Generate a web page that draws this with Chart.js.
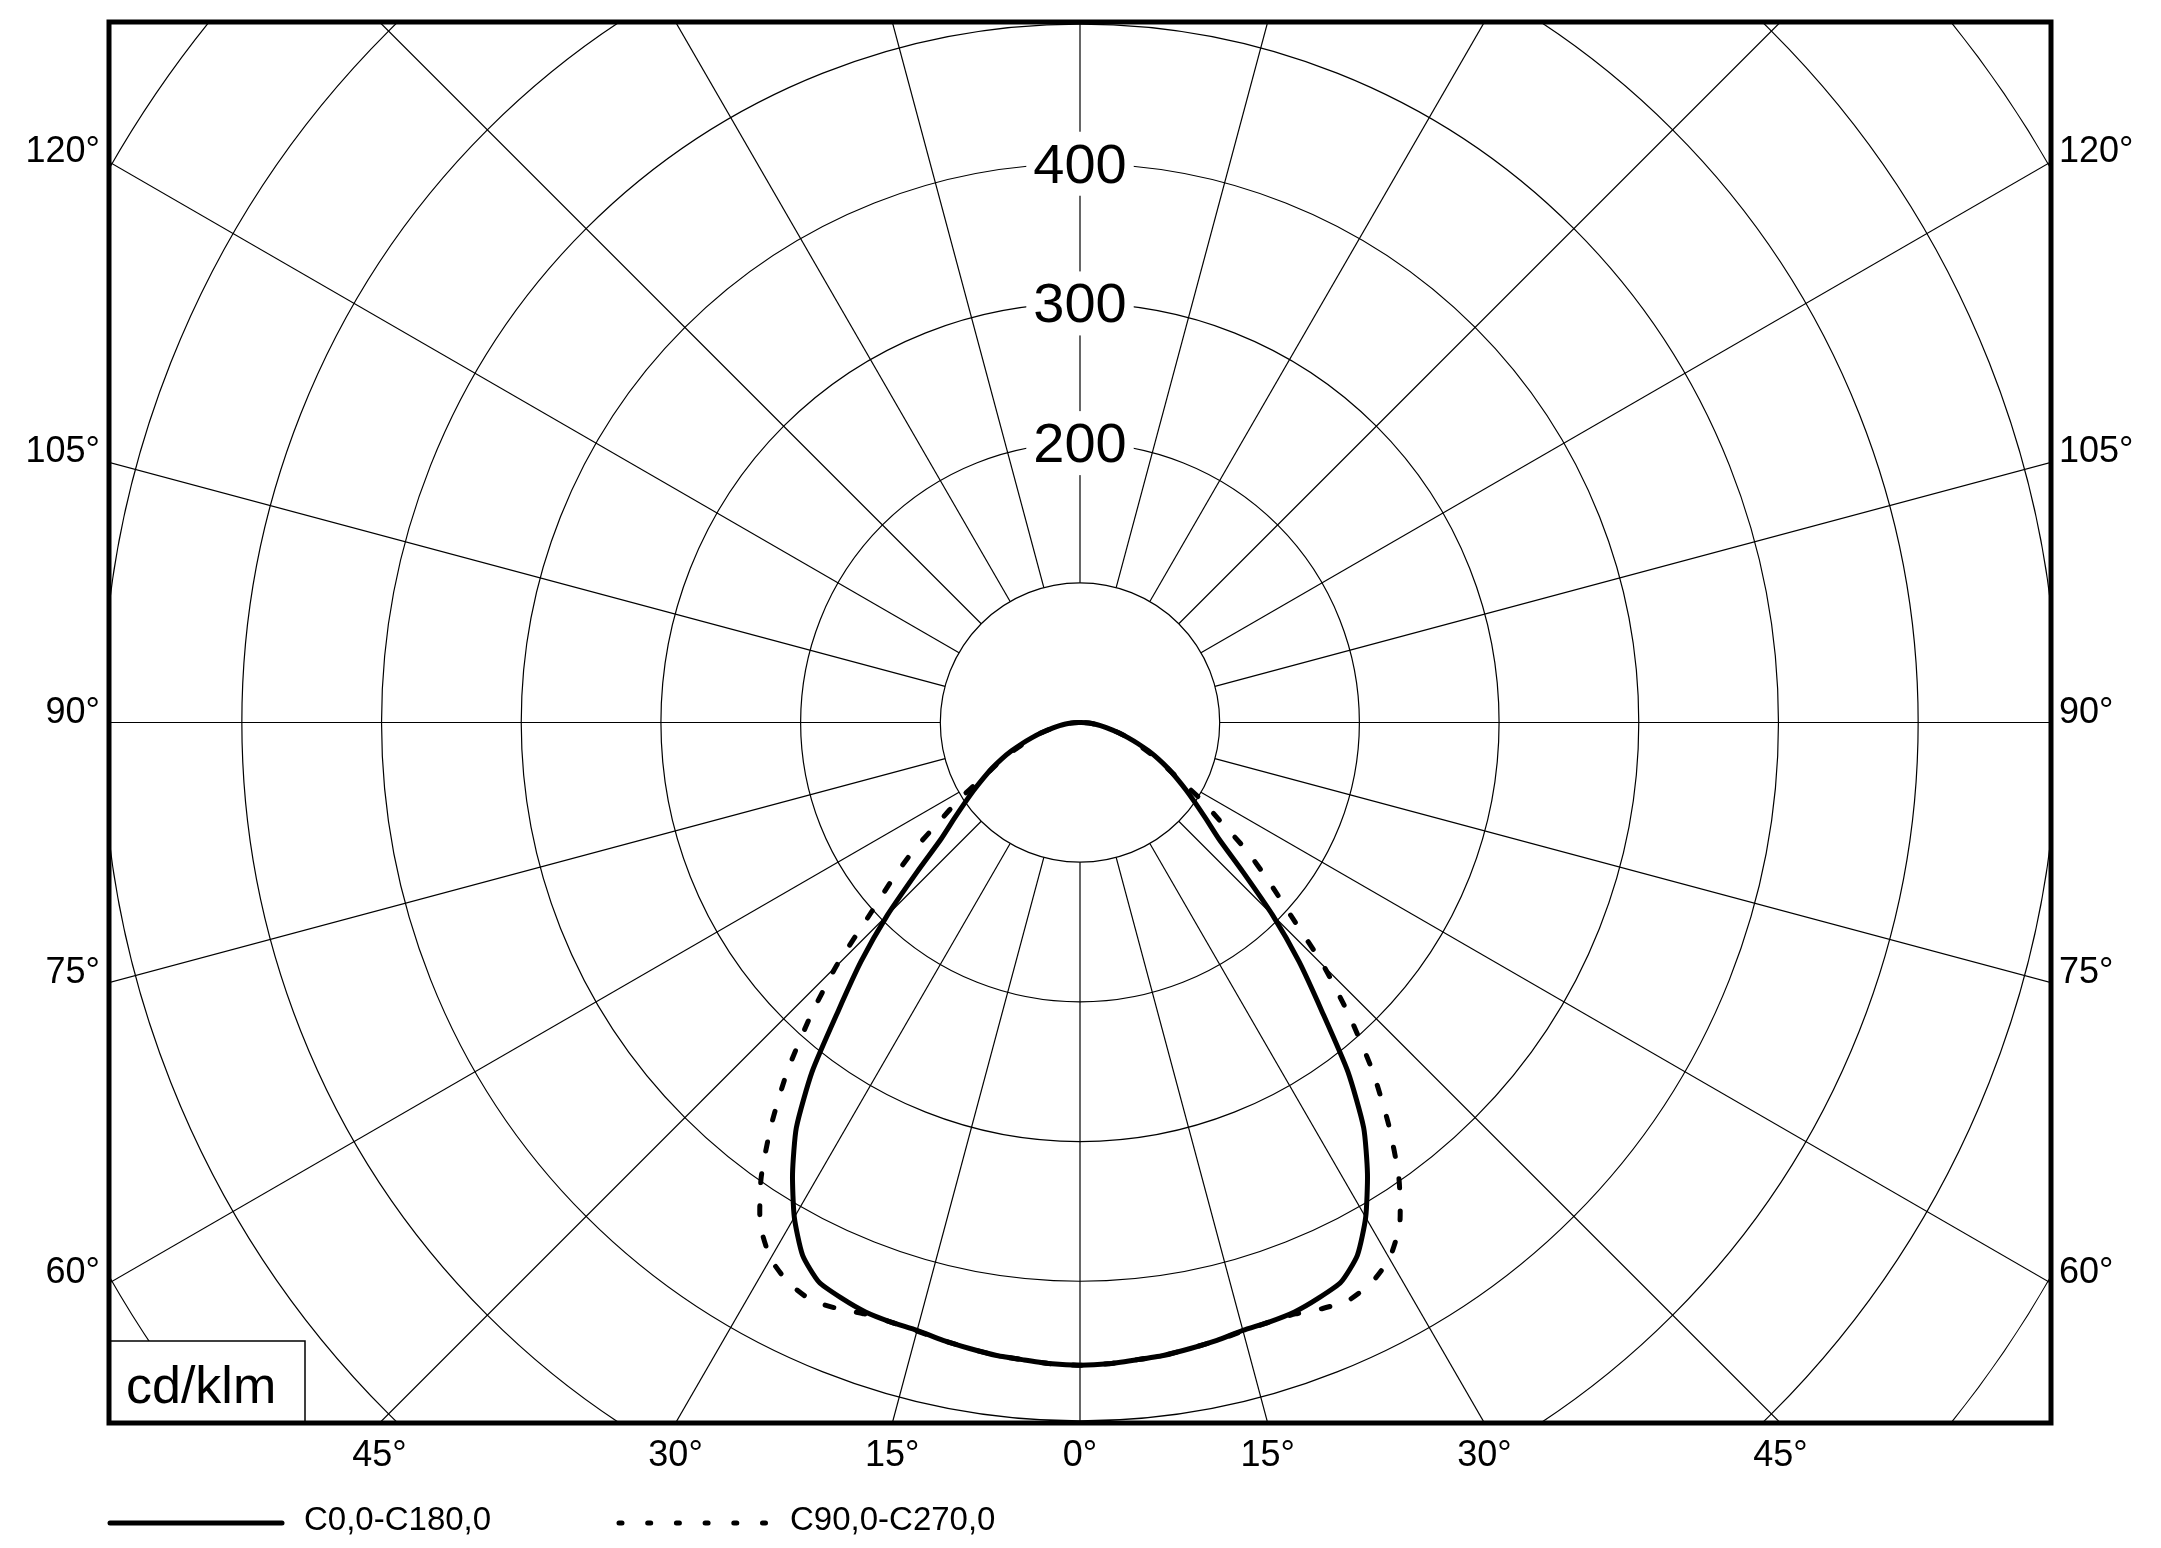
<!DOCTYPE html>
<html>
<head>
<meta charset="utf-8">
<script src="https://cdn.jsdelivr.net/npm/chart.js@4.4.0/dist/chart.umd.min.js"></script>
<style>
  html, body { margin: 0; padding: 0; background: #fff; }
  #wrap { width: 2161px; height: 1548px; }
</style>
</head>
<body>
<div id="wrap"><canvas id="polarChart" width="2161" height="1548"></canvas></div>
<script>
// gamma angle from nadir (deg) and luminous intensity (cd/klm)
const gammaAngles = [0, 2.5, 5, 7.5, 10, 12.5, 15, 17.5, 20, 22.5, 25, 27.5, 30, 32.5, 35, 37.5, 40, 42.5, 45,
  47.5, 50, 52.5, 55, 57.5, 60, 62.5, 65, 67.5, 70, 72.5, 75, 77.5, 80, 82.5, 85, 87.5, 90];
const c0c180Values = [460, 459.5, 458, 457, 455, 453, 450.5, 450, 449, 446, 442, 430, 409, 383, 354, 315, 269, 232, 195,
  158, 130, 114, 101, 90, 80, 71, 62, 53, 44, 36, 29, 22, 17, 12.5, 8.5, 4.3, 0];
const c90c270Values = [460, 459.5, 458, 457, 455, 453, 451, 450, 450.5, 454, 456, 452, 443, 426, 398, 363, 326, 286, 247,
  205, 176, 150, 122, 103, 83, 70, 60, 50, 42, 36, 29, 22, 17, 12.5, 8.5, 4.3, 0];

const seriesNames = ["C0,0-C180,0", "C90,0-C270,0"];
const ringValues = [100, 200, 300, 400, 500, 600, 700, 800, 900, 1000];
const ringLabels = [200, 300, 400];
const spokeAngles = [0, 15, 30, 45, 60, 75, 90, 105, 120, 135, 150, 165, 180, 195, 210, 225, 240, 255, 270, 285, 300, 315, 330, 345];
const sideAngleLabels = [60, 75, 90, 105, 120];
const bottomAngleLabels = [-45, -30, -15, 0, 15, 30, 45];
const unitLabel = "cd/klm";

const FONT = "'Liberation Sans', Arial, sans-serif";
const rad = (d) => d * Math.PI / 180;

// turn one C-plane pair into an x/y path (left half, then right half)
function toPoints(values) {
  const pts = [];
  for (let i = gammaAngles.length - 1; i >= 0; i--) {
    const g = rad(gammaAngles[i]);
    pts.push({ x: -values[i] * Math.sin(g), y: -values[i] * Math.cos(g) });
  }
  for (let i = 1; i < gammaAngles.length; i++) {
    const g = rad(gammaAngles[i]);
    pts.push({ x: values[i] * Math.sin(g), y: -values[i] * Math.cos(g) });
  }
  return pts;
}

// polar grid behind the curves
const polarGrid = {
  id: "polarGrid",
  beforeDatasetsDraw(chart) {
    const { ctx, chartArea, scales } = chart;
    const cx = scales.x.getPixelForValue(0);
    const cy = scales.y.getPixelForValue(0);
    const unit = scales.x.getPixelForValue(100) - cx;

    ctx.save();
    ctx.beginPath();
    ctx.rect(chartArea.left, chartArea.top, chartArea.right - chartArea.left, chartArea.bottom - chartArea.top);
    ctx.clip();
    ctx.strokeStyle = "#000";
    ctx.lineWidth = 1.2;

    ringValues.forEach((v) => {
      ctx.beginPath();
      ctx.arc(cx, cy, v / 100 * unit, 0, Math.PI * 2);
      ctx.stroke();
    });

    const r0 = unit;
    const r1 = 12 * unit;
    spokeAngles.forEach((a) => {
      const s = Math.sin(rad(a)), c = Math.cos(rad(a));
      ctx.beginPath();
      ctx.moveTo(cx + r0 * s, cy + r0 * c);
      ctx.lineTo(cx + r1 * s, cy + r1 * c);
      ctx.stroke();
    });

    // ring values along the upper vertical
    ctx.font = "56px " + FONT;
    ctx.textAlign = "center";
    ctx.textBaseline = "alphabetic";
    ringLabels.forEach((v) => {
      const y = cy - v / 100 * unit;
      const w = ctx.measureText(String(v)).width;
      ctx.fillStyle = "#fff";
      ctx.fillRect(cx - w / 2 - 7, y - 32, w + 14, 64);
      ctx.fillStyle = "#000";
      ctx.fillText(String(v), cx, y + 19);
    });
    ctx.restore();
  },

  afterDatasetsDraw(chart) {
    const { ctx, chartArea, scales } = chart;
    const cx = scales.x.getPixelForValue(0);
    const cy = scales.y.getPixelForValue(0);
    const halfW = chartArea.right - cx;
    const halfH = chartArea.bottom - cy;

    ctx.save();
    ctx.fillStyle = "#000";
    ctx.strokeStyle = "#000";

    // angle labels at both sides
    ctx.font = "36px " + FONT;
    ctx.textBaseline = "alphabetic";
    sideAngleLabels.forEach((a) => {
      const y = cy + halfW * Math.cos(rad(a)) / Math.sin(rad(a));
      ctx.textAlign = "right";
      ctx.fillText(a + "°", chartArea.left - 9, y);
      ctx.textAlign = "left";
      ctx.fillText(a + "°", chartArea.right + 8, y);
    });

    // angle labels under the frame
    ctx.textAlign = "center";
    bottomAngleLabels.forEach((a) => {
      const x = cx + halfH * Math.tan(rad(a));
      ctx.fillText(Math.abs(a) + "°", x, chartArea.bottom + 43);
    });

    // unit box
    ctx.fillStyle = "#fff";
    ctx.fillRect(chartArea.left, chartArea.bottom - 82, 196, 82);
    ctx.lineWidth = 1.5;
    ctx.strokeRect(chartArea.left, chartArea.bottom - 82, 196, 82);
    ctx.fillStyle = "#000";
    ctx.font = "52px " + FONT;
    ctx.textAlign = "left";
    ctx.fillText(unitLabel, chartArea.left + 17, chartArea.bottom - 20);

    // frame
    ctx.lineWidth = 5;
    ctx.strokeRect(chartArea.left, chartArea.top, chartArea.right - chartArea.left, chartArea.bottom - chartArea.top);

    // legend
    const ly = 1523;
    ctx.lineWidth = 5;
    ctx.lineCap = "round";
    ctx.beginPath();
    ctx.moveTo(110, ly);
    ctx.lineTo(282, ly);
    ctx.stroke();
    ctx.setLineDash([3, 25.7]);
    ctx.beginPath();
    ctx.moveTo(619, ly);
    ctx.lineTo(767, ly);
    ctx.stroke();
    ctx.setLineDash([]);
    ctx.font = "33px " + FONT;
    ctx.fillText(seriesNames[0], 304, 1530);
    ctx.fillText(seriesNames[1], 790, 1530);
    ctx.restore();
  }
};

const ctx = document.getElementById("polarChart").getContext("2d");
const chart = new Chart(ctx, {
  type: "scatter",
  data: {
    datasets: [
      {
        label: seriesNames[0],
        data: toPoints(c0c180Values),
        showLine: true,
        borderColor: "#000",
        borderWidth: 5,
        pointRadius: 0,
        tension: 0.2,
        fill: false,
      },
      {
        label: seriesNames[1],
        data: toPoints(c90c270Values),
        showLine: true,
        borderColor: "#000",
        borderWidth: 5,
        borderDash: [9, 23],
        borderCapStyle: "round",
        pointRadius: 0,
        tension: 0.2,
        fill: false,
      },
    ],
  },
  options: {
    responsive: false,
    devicePixelRatio: 1,
    animation: false,
    layout: { padding: { left: 109, right: 110, top: 22, bottom: 125 } },
    scales: {
      x: { type: "linear", min: -695.1, max: 695.1, display: false },
      y: { type: "linear", min: -501.4, max: 501.4, display: false },
    },
    plugins: {
      legend: { display: false },
      tooltip: { enabled: false },
    },
  },
  plugins: [polarGrid],
});
</script>
</body>
</html>
